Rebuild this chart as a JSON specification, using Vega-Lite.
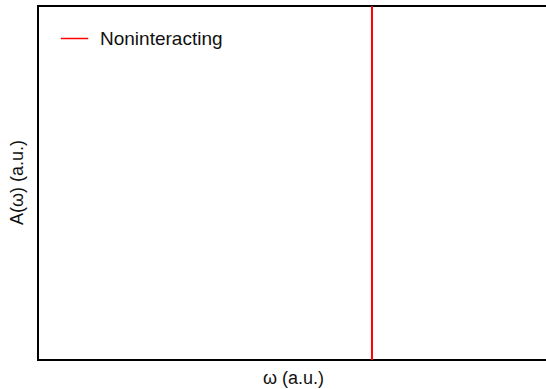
{
  "$schema": "https://vega.github.io/schema/vega-lite/v6.json",
  "width": 520,
  "height": 354,
  "autosize": {"type": "none"},
  "padding": {"left": 38, "top": 6, "right": 0, "bottom": 29},
  "background": "white",
  "config": {
    "view": {"stroke": "black", "strokeWidth": 2},
    "font": "Liberation Sans"
  },
  "data": {"values": [
    {"omega": 0, "A": 0, "series": "Noninteracting"},
    {"omega": 0, "A": 1, "series": "Noninteracting"}
  ]},
  "mark": {"type": "rule", "strokeWidth": 2},
  "encoding": {
    "x": {
      "field": "omega", "type": "quantitative",
      "scale": {"domain": [-1, 0.557], "nice": false, "zero": false},
      "axis": {"title": "ω (a.u.)", "domain": false, "ticks": false, "labels": false, "grid": false,
               "titleFontSize": 18, "titleFontWeight": "normal", "titleColor": "#111", "titlePadding": 9, "titleX": 255}
    },
    "y": {
      "field": "A", "type": "quantitative",
      "aggregate": "min",
      "scale": {"domain": [0, 1], "nice": false},
      "axis": {"title": "A(ω) (a.u.)", "domain": false, "ticks": false, "labels": false, "grid": false,
               "titleFontSize": 18, "titleFontWeight": "normal", "titleColor": "#111", "titlePadding": 12, "titleY": 176}
    },
    "y2": {"field": "A", "aggregate": "max"},
    "color": {
      "field": "series", "type": "nominal",
      "scale": {"range": ["#ff0000"]},
      "legend": {"title": null, "orient": "none", "legendX": 22, "legendY": 18,
                 "symbolType": "stroke", "symbolSize": 750, "symbolStrokeWidth": 1.5,
                 "labelFontSize": 19, "labelColor": "#111", "labelOffset": 11, "padding": 0}
    }
  }
}
